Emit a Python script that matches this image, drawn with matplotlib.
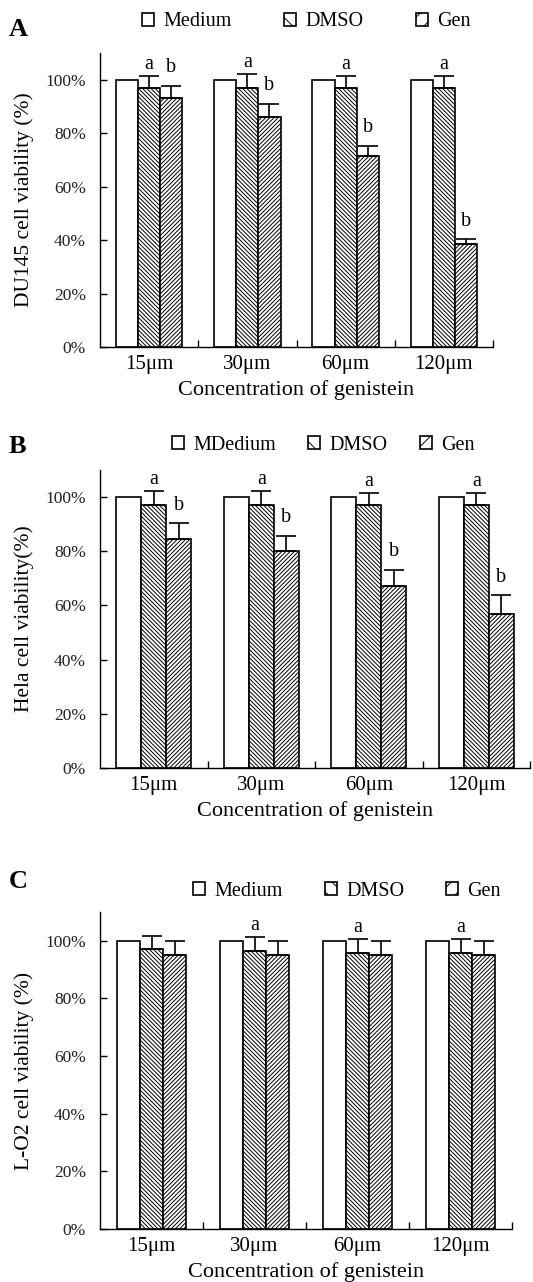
import numpy as np
import matplotlib
matplotlib.use('Agg')
import matplotlib.pyplot as plt
from matplotlib.patches import Patch

plt.rcParams['font.family'] = ['Liberation Serif', 'DejaVu Serif']
plt.rcParams['hatch.linewidth'] = 0.7
plt.rcParams['hatch.color'] = 'black'

# data (% of control)
groups = ['15μm', '30μm', '60μm', '120μm']
yticks = [0, 20, 40, 60, 80, 100]
ytick_labels = ['0%', '20%', '40%', '60%', '80%', '100%']

medium_a = [100, 100, 100, 100]
dmso_a = [97, 97, 97, 97]
dmso_err_a = [4.5, 5.2, 4.5, 4.5]
gen_a = [93.3, 86.0, 71.5, 38.6]
gen_err_a = [4.5, 5.0, 3.8, 1.8]
dmso_lab_a = ['a', 'a', 'a', 'a']
gen_lab_a = ['b', 'b', 'b', 'b']

medium_b = [100, 100, 100, 100]
dmso_b = [97, 97, 97, 97]
dmso_err_b = [5.4, 5.4, 4.4, 4.4]
gen_b = [84.6, 80.0, 67.3, 57.0]
gen_err_b = [5.7, 5.8, 5.8, 6.7]
dmso_lab_b = ['a', 'a', 'a', 'a']
gen_lab_b = ['b', 'b', 'b', 'b']

medium_c = [100, 100, 100, 100]
dmso_c = [97.1, 96.4, 95.8, 95.8]
dmso_err_c = [4.7, 4.8, 4.7, 4.7]
gen_c = [95, 95, 95, 95]
gen_err_c = [5, 5, 5, 5]
dmso_lab_c = ['', 'a', 'a', 'a']
gen_lab_c = ['', '', '', '']

W, H = 533, 1282
fig = plt.figure(figsize=(W / 100, H / 100), dpi=100)


def px_rect(left, right, top, bottom):
    return [left / W, 1 - bottom / H, (right - left) / W, (bottom - top) / H]


def panel(rect, medium, dmso, dmso_err, gen, gen_err, dmso_lab, gen_lab,
          ylabel, bw):
    ax = fig.add_axes(rect)
    x = np.arange(len(groups))
    ax.bar(x - bw, medium, bw, color='white', edgecolor='black', linewidth=1.2)
    ax.bar(x, dmso, bw, color='white', edgecolor='black', linewidth=1.2,
           hatch='\\' * 8)
    ax.bar(x + bw, gen, bw, color='white', edgecolor='black', linewidth=1.2,
           hatch='/' * 8)
    ax.errorbar(x, dmso, yerr=[np.zeros(4), dmso_err], fmt='none',
                ecolor='black', elinewidth=1.2, capsize=7, capthick=1.2)
    ax.errorbar(x + bw, gen, yerr=[np.zeros(4), gen_err], fmt='none',
                ecolor='black', elinewidth=1.2, capsize=7, capthick=1.2)
    off = {'a': 2.6, 'b': 5.0}
    for i in range(len(groups)):
        if dmso_lab[i]:
            ax.text(x[i], dmso[i] + dmso_err[i] + off[dmso_lab[i]], dmso_lab[i],
                    ha='center', va='baseline', fontsize=14.5)
        if gen_lab[i]:
            ax.text(x[i] + bw, gen[i] + gen_err[i] + off[gen_lab[i]], gen_lab[i],
                    ha='center', va='baseline', fontsize=14.5)
    ax.set_xlim(-0.5, len(groups) - 0.5)
    ax.set_ylim(0, 110)
    ax.spines['top'].set_visible(False)
    ax.spines['right'].set_visible(False)
    ax.spines['left'].set_linewidth(1.0)
    ax.spines['bottom'].set_linewidth(1.0)
    ax.set_yticks(yticks)
    ax.set_yticklabels(ytick_labels, fontsize=12.5, color='#222222')
    ax.tick_params(axis='y', direction='in', length=5, width=1.0, pad=10)
    ax.set_xticks(x)
    ax.set_xticklabels(groups, fontsize=15)
    ax.set_xticks(x + 0.5, minor=True)
    ax.tick_params(axis='x', which='major', length=0, pad=6)
    ax.tick_params(axis='x', which='minor', direction='in', length=5, width=1.0)
    ax.set_xlabel('Concentration of genistein', fontsize=16, labelpad=4)
    ax.set_ylabel(ylabel, fontsize=15.5, labelpad=8)
    return ax


def legend(labels, x_px, y_px, colsp):
    handles = [Patch(facecolor='white', edgecolor='black', linewidth=1.2),
               Patch(facecolor='white', edgecolor='black', linewidth=1.2, hatch='\\\\'),
               Patch(facecolor='white', edgecolor='black', linewidth=1.2, hatch='//')]
    fig.legend(handles, labels, ncol=3, loc='center left',
               bbox_to_anchor=(x_px / W, 1 - y_px / H), frameon=False,
               fontsize=14.5, handlelength=0.6, handleheight=0.6,
               handletextpad=0.45, columnspacing=colsp, borderpad=0,
               borderaxespad=0)


panel(px_rect(100, 493, 53, 347), medium_a, dmso_a, dmso_err_a, gen_a,
      gen_err_a, dmso_lab_a, gen_lab_a, 'DU145 cell viability (%)', 0.225)
panel(px_rect(100, 530, 470, 768), medium_b, dmso_b, dmso_err_b, gen_b,
      gen_err_b, dmso_lab_b, gen_lab_b, 'Hela cell viability(%)', 0.233)
panel(px_rect(100, 512, 912, 1229), medium_c, dmso_c, dmso_err_c, gen_c,
      gen_err_c, dmso_lab_c, gen_lab_c, 'L-O2 cell viability (%)', 0.225)

legend(['Medium', 'DMSO', 'Gen'], 142, 22, 2.6)
legend(['MDedium', 'DMSO', 'Gen'], 172, 445, 1.6)
legend(['Medium', 'DMSO', 'Gen'], 193, 891, 2.1)

for lab, y in [('A', 36), ('B', 453), ('C', 888)]:
    fig.text(9 / W, 1 - y / H, lab, fontsize=19, fontweight='bold',
             va='baseline', ha='left')

fig.savefig('out.png', dpi=100)
